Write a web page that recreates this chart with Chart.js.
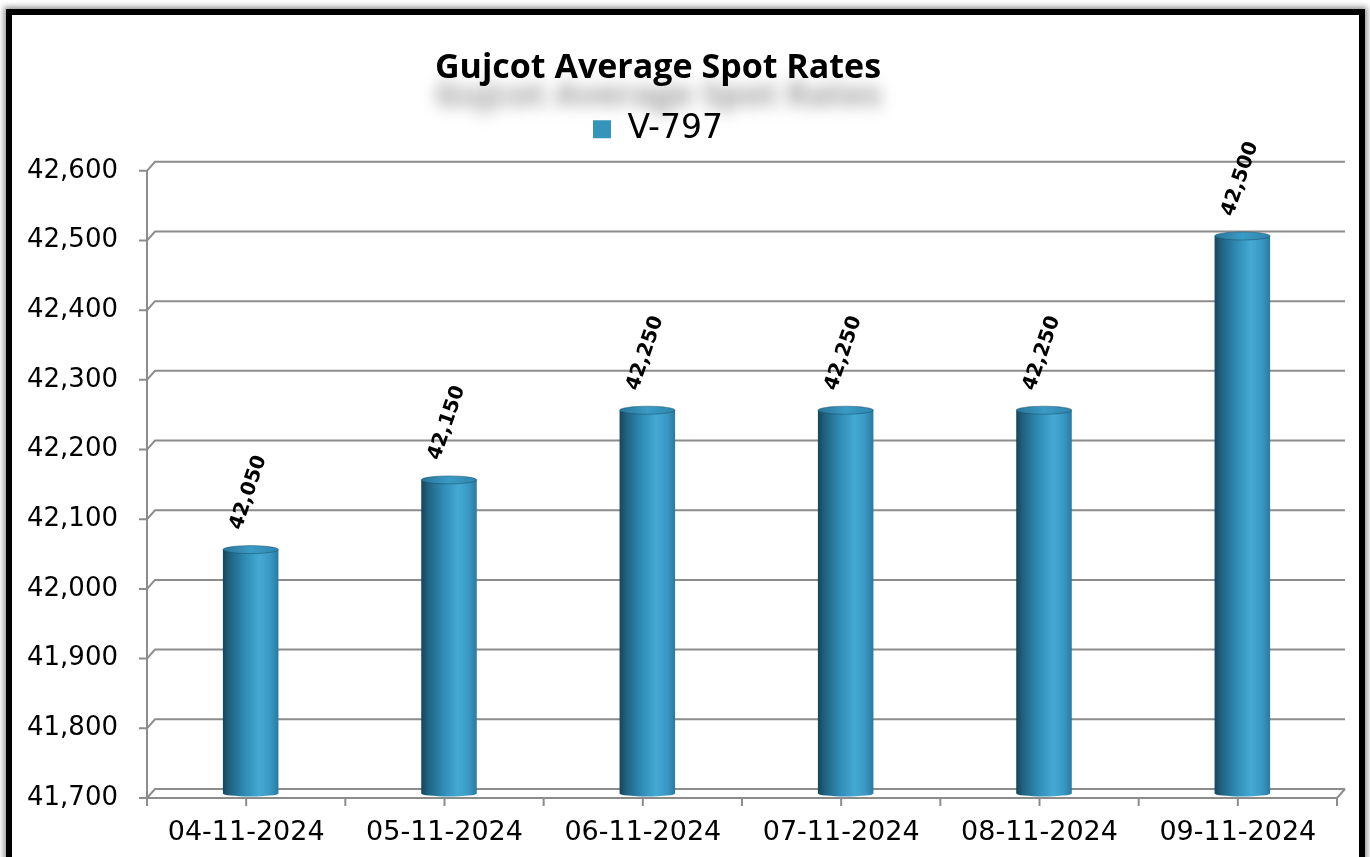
<!DOCTYPE html>
<html>
<head>
<meta charset="utf-8">
<title>Gujcot Average Spot Rates</title>
<script src="https://cdn.jsdelivr.net/npm/chart.js@4.4.1/dist/chart.umd.min.js"></script>
<style>
  html, body { margin: 0; padding: 0; background: #fff; overflow: hidden; }
  #frame {
    position: absolute; left: 6px; top: 9px; width: 1347px; height: 900px;
    border: 6px solid #000; box-shadow: 0 0 6px 2px rgba(0,0,0,0.45); background: #fff;
  }
  #wrap { position: absolute; left: 0; top: 0; width: 1370px; height: 857px; }
</style>
</head>
<body>
<div id="frame"></div>
<div id="wrap"><canvas id="chartCanvas" width="1370" height="857"></canvas></div>
<script>
const categories = ['04-11-2024', '05-11-2024', '06-11-2024', '07-11-2024', '08-11-2024', '09-11-2024'];
const seriesName = 'V-797';
const values = [42050, 42150, 42250, 42250, 42250, 42500];
const yMin = 41700;
const yMax = 42600;
const yStep = 100;

const AXIS_LEFT = 147;   // front plane of the value axis
const PAD_LEFT = -21;    // shifts title/legend centre to match reference
const DEPTH_X = 8;       // 3D back wall offset
const DEPTH_Y = 9;
const GRID = '#8c8c8c';
const TITLE_SIZE = 34;
const TITLE_PAD = 48;

// grid, floor, axis and tick marks in pseudo 3D
const plot3d = {
  id: 'plot3d',
  beforeDraw(chart) {
    // blurred shadow under the title
    const tb = chart.titleBlock;
    if (!tb) return;
    const c = chart.ctx;
    c.save();
    c.filter = 'blur(8px)';
    c.fillStyle = 'rgba(0,0,0,0.4)';
    c.font = 'bold ' + TITLE_SIZE + 'px "Open Sans"';
    c.textAlign = 'center';
    c.textBaseline = 'middle';
    c.fillText(chart.options.plugins.title.text, (tb.left + tb.right) / 2, tb.top + TITLE_PAD + TITLE_SIZE * 0.6 + 28);
    c.restore();
  },
  beforeDatasetsDraw(chart) {
    const c = chart.ctx;
    const y = chart.scales.y;
    const x = chart.scales.x;
    const left = chart.chartArea.left;
    const right = chart.chartArea.right;
    const bottom = y.getPixelForValue(yMin);
    c.save();
    c.strokeStyle = GRID;
    c.lineWidth = 2;
    c.beginPath();
    y.ticks.forEach(t => {
      const py = y.getPixelForValue(t.value);
      c.moveTo(left - 8, py);
      c.lineTo(left, py);
      c.lineTo(left + DEPTH_X, py - DEPTH_Y);
      c.lineTo(right + DEPTH_X, py - DEPTH_Y);
    });
    // front value axis
    c.moveTo(left, y.getPixelForValue(yMax));
    c.lineTo(left, bottom);
    // front category axis and right floor edge
    c.lineTo(right, bottom);
    c.lineTo(right + DEPTH_X, bottom - DEPTH_Y);
    // category tick marks at centres and boundaries
    const half = (x.getPixelForValue(1) - x.getPixelForValue(0)) / 2;
    for (let i = 0; i < categories.length; i++) {
      const cx = x.getPixelForValue(i);
      [cx - half, cx, cx + half].forEach(px => {
        c.moveTo(px, bottom);
        c.lineTo(px, bottom + 8);
      });
    }
    c.stroke();
    c.restore();
  },
  beforeDatasetDraw() {
    return false; // bars are painted as cylinders below
  },
  afterDatasetsDraw(chart) {
    const c = chart.ctx;
    const meta = chart.getDatasetMeta(0);
    const floor = chart.scales.y.getPixelForValue(yMin);
    meta.data.forEach((bar, i) => {
      const w = bar.width;
      const cx = bar.x + DEPTH_X / 2 + 0.5;
      const top = bar.y - DEPTH_Y / 2;
      const base = floor - DEPTH_Y / 2;
      const l = cx - w / 2;
      const ry = 4;
      const g = c.createLinearGradient(l, 0, l + w, 0);
      g.addColorStop(0, '#16455a');
      g.addColorStop(0.12, '#1f6280');
      g.addColorStop(0.4, '#2f8cb5');
      g.addColorStop(0.66, '#45a9d4');
      g.addColorStop(0.85, '#3a99c4');
      g.addColorStop(1, '#2a7aa0');
      c.save();
      c.fillStyle = g;
      c.beginPath();
      c.moveTo(l, top);
      c.lineTo(l, base);
      c.ellipse(cx, base, w / 2, 3, 0, Math.PI, 0, true);
      c.lineTo(l + w, top);
      c.closePath();
      c.fill();
      // top cap
      const tg = c.createLinearGradient(l, 0, l + w, 0);
      tg.addColorStop(0, '#2a7597');
      tg.addColorStop(0.5, '#3a9bc5');
      tg.addColorStop(1, '#2f85ad');
      c.fillStyle = tg;
      c.beginPath();
      c.ellipse(cx, top, w / 2, ry, 0, 0, Math.PI * 2);
      c.fill();
      c.strokeStyle = 'rgba(20,70,95,0.45)';
      c.lineWidth = 1;
      c.stroke();
      // value label
      c.translate(cx - 2, top - 57);
      c.rotate(-71 * Math.PI / 180);
      c.fillStyle = '#000';
      c.font = 'bold 20px "DejaVu Sans"';
      c.textAlign = 'center';
      c.textBaseline = 'middle';
      c.fillText(values[i].toLocaleString('en-US'), 0, 0);
      c.restore();
    });
  }
};

const ctx = document.getElementById('chartCanvas').getContext('2d');
new Chart(ctx, {
  type: 'bar',
  data: {
    labels: categories,
    datasets: [{
      label: seriesName,
      data: values,
      backgroundColor: '#3494ba',
      borderWidth: 0,
      categoryPercentage: 1,
      barPercentage: 0.28
    }]
  },
  options: {
    responsive: false,
    animation: false,
    locale: 'en-US',
    layout: { padding: { left: PAD_LEFT, right: 33, top: 0, bottom: 0 } },
    plugins: {
      title: {
        display: true,
        text: 'Gujcot Average Spot Rates',
        color: '#000',
        font: { family: '"Open Sans"', weight: 'bold', size: TITLE_SIZE },
        padding: { top: TITLE_PAD, bottom: 0 }
      },
      legend: {
        display: true,
        labels: {
          color: '#000',
          font: { family: '"DejaVu Sans"', size: 33 },
          boxWidth: 18,
          boxHeight: 18,
          padding: 24
        }
      },
      tooltip: { enabled: false }
    },
    scales: {
      x: {
        grid: { display: false, drawTicks: false },
        border: { display: false },
        ticks: {
          color: '#000',
          font: { family: '"DejaVu Sans"', size: 27 },
          padding: 19,
          maxRotation: 0
        },
        afterFit(scale) { scale.height = 59; }
      },
      gap: {
        type: 'linear',
        position: 'top',
        grid: { display: false, drawTicks: false },
        border: { display: false },
        ticks: { display: false },
        afterFit(scale) { scale.height = 15; }
      },
      y: {
        min: yMin,
        max: yMax,
        grid: { display: false, drawTicks: false },
        border: { display: false },
        ticks: {
          stepSize: yStep,
          color: '#000',
          font: { family: '"DejaVu Sans"', size: 26 },
          padding: 29
        },
        afterFit(scale) { scale.width = AXIS_LEFT - PAD_LEFT; }
      }
    }
  },
  plugins: [plot3d]
});
</script>
</body>
</html>
